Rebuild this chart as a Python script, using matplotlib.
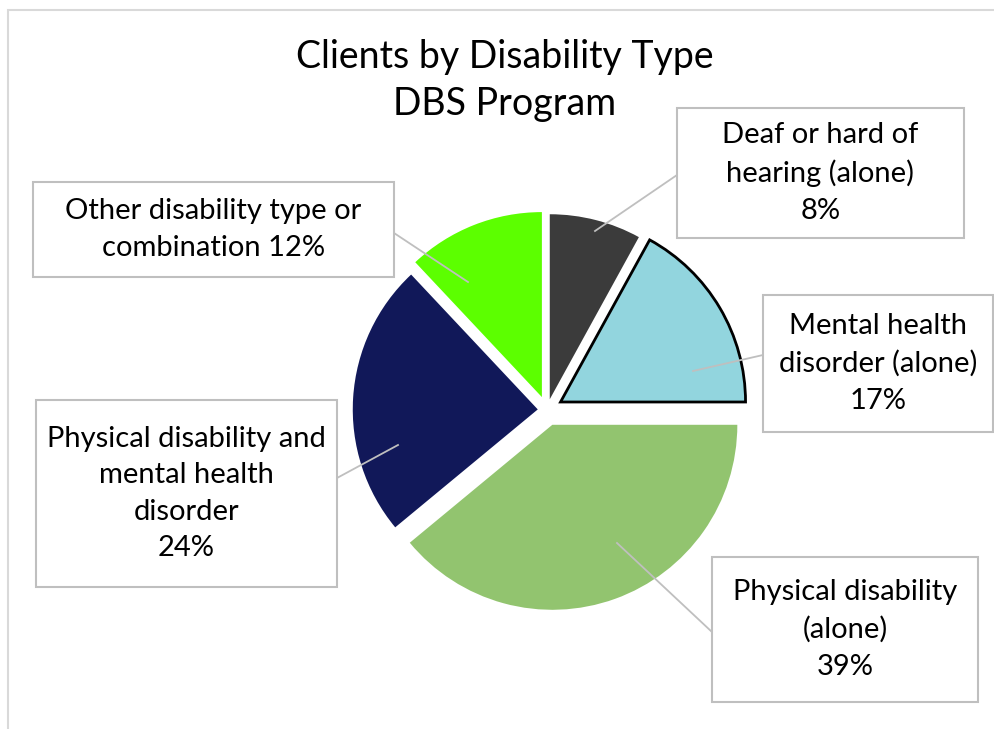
import matplotlib
matplotlib.use("Agg")
import matplotlib.pyplot as plt
from matplotlib.patches import Rectangle

# data
labels = [
    "Deaf or hard of\nhearing (alone)",
    "Mental health\ndisorder (alone)",
    "Physical disability\n(alone)",
    "Physical disability and\nmental health\ndisorder",
    "Other disability type or\ncombination",
]
shares = [8, 17, 39, 24, 12]
colors = ["#3B3B3B", "#92D5DE", "#92C46F", "#111859", "#5CFF00"]
explode = [0.06, 0.085, 0.085, 0.05, 0.075]  # fraction of radius

W, H = 995, 729
plt.rcParams["font.family"] = ["Lato", "DejaVu Sans"]

fig = plt.figure(figsize=(W / 100, H / 100), dpi=100)
ax = fig.add_axes([0, 0, 1, 1])


def Y(py):
    # pixel row (from top) -> data y
    return H - py


cx, cy, R = 547, Y(410), 185
# pie's explode is in data units, so scale by the radius
wedges, _ = ax.pie(
    shares,
    colors=colors,
    explode=[e * R for e in explode],
    startangle=90,
    counterclock=False,
    center=(cx, cy),
    radius=R,
    wedgeprops=dict(linewidth=0),
)
# only the mental health slice has a dark outline
wedges[1].set_edgecolor("black")
wedges[1].set_linewidth(2)

ax.set_xlim(0, W)
ax.set_ylim(0, H)
ax.set_aspect("equal")
ax.axis("off")

# outer chart border (cropped at right/bottom)
ax.add_patch(Rectangle((8, Y(1000)), 1200, 990, fill=False, edgecolor="#D9D9D9", linewidth=1.5))

# title
ax.text(505, Y(68), "Clients by Disability Type", ha="center", va="baseline", fontsize=27)
ax.text(505, Y(115), "DBS Program", ha="center", va="baseline", fontsize=27)

# label boxes: (left, top, right, bottom), leader from box point to slice point
boxes = [
    ((677, 108, 964, 238), (677, 175), (595, 231)),
    ((763, 295, 993, 432), (763, 355), (693, 371)),
    ((712, 557, 978, 702), (712, 632), (617, 543)),
    ((36, 400, 337, 587), (337, 478), (398, 445)),
    ((33, 182, 394, 277), (394, 233), (468, 282)),
]

for i, (box, p0, p1) in enumerate(boxes):
    l, t, r, b = box
    ax.plot([p0[0], p1[0]], [Y(p0[1]), Y(p1[1])], color="#BFBFBF", linewidth=1.3, zorder=3)
    ax.add_patch(Rectangle((l, Y(b)), r - l, b - t, facecolor="white",
                           edgecolor="#BFBFBF", linewidth=1.5, zorder=4))
    if i == 4:
        txt = f"{labels[i]} {shares[i]}%"
    else:
        txt = f"{labels[i]}\n{shares[i]}%"
    ax.text((l + r) / 2, Y((t + b) / 2), txt, ha="center", va="center",
            fontsize=21, linespacing=1.5, zorder=5)

fig.savefig("out.png", dpi=100)
